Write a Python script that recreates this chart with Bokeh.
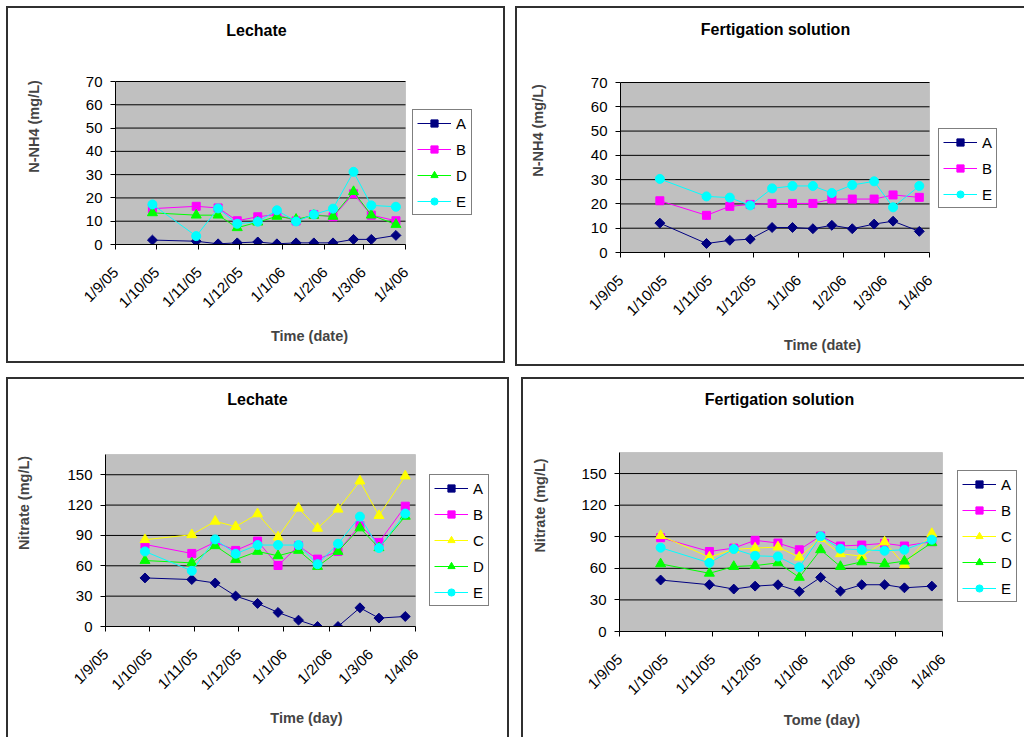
from math import pi

import numpy as np
from bokeh.embed import file_html
from bokeh.layouts import column, row
from bokeh.models import (BoxAnnotation, FixedTicker, Label, Legend,
                          LegendItem, Range1d)
from bokeh.plotting import figure
from bokeh.resources import INLINE

# Sampling dates shared by all four charts
sample_dates = ["2005-09-28", "2005-10-30", "2005-11-15", "2005-11-29",
                "2005-12-14", "2005-12-28", "2006-01-11", "2006-01-24",
                "2006-02-07", "2006-02-22", "2006-03-07", "2006-03-25"]

# Monthly ticks on the time axis and their d/m/yy labels
month_ticks = ["2005-09-01", "2005-10-01", "2005-11-01", "2005-12-01",
               "2006-01-01", "2006-02-01", "2006-03-01", "2006-04-01"]
month_labels = ["1/9/05", "1/10/05", "1/11/05", "1/12/05",
                "1/1/06", "1/2/06", "1/3/06", "1/4/06"]

# N-NH4 in the leachate (mg/L)
nh4_leach_A = [1.9, 1.4, 0.3, 0.7, 1.1, 0.3, 0.7, 0.7, 0.7, 2.2, 2.2, 3.9]
nh4_leach_B = [15.4, 16.4, 15.7, 10.2, 11.9, 12.9, 10.1, 12.9, 11.9, 21.8, 12.6, 10.2]
nh4_leach_D = [13.6, 12.6, 12.6, 7.2, 9.6, 12.1, 10.8, 12.5, 12.1, 22.7, 12.6, 8.6]
nh4_leach_E = [17.2, 3.6, 15.5, 8.9, 9.8, 14.7, 9.9, 12.9, 15.4, 31.2, 16.8, 16.2]

# N-NH4 in the fertigation solution (mg/L)
nh4_fert_A = [12.1, 3.7, 5.0, 5.5, 10.3, 10.3, 9.8, 11.2, 9.8, 11.7, 12.9, 8.7]
nh4_fert_B = [21.3, 15.3, 19.0, 19.8, 20.2, 20.2, 20.2, 22.0, 22.0, 22.0, 23.7, 22.7]
nh4_fert_E = [30.3, 23.1, 22.6, 19.4, 26.4, 27.4, 27.4, 24.5, 27.8, 29.3, 18.6, 27.4]

# Nitrate in the leachate (mg/L)
no3_leach_A = [48.0, 46.4, 43.0, 30.1, 22.8, 13.9, 6.3, 0.0, 0.0, 18.5, 8.3, 9.9]
no3_leach_B = [81.1, 72.2, 83.4, 75.2, 84.4, 60.3, 79.8, 66.6, 74.2, 99.7, 83.1, 118.9]
no3_leach_C = [85.8, 90.7, 104.0, 98.7, 111.3, 88.4, 116.9, 97.0, 115.9, 143.7, 109.6, 148.7]
no3_leach_D = [65.2, 62.9, 79.8, 66.2, 74.2, 69.9, 75.2, 59.3, 74.2, 97.4, 77.8, 108.9]
no3_leach_E = [74.2, 55.0, 86.1, 71.9, 80.5, 80.5, 80.5, 61.6, 81.8, 108.6, 77.5, 111.6]

# Nitrate in the fertigation solution (mg/L)
no3_fert_A = [48.9, 44.4, 40.3, 43.1, 44.4, 38.0, 51.4, 38.3, 44.4, 44.4, 41.5, 43.1]
no3_fert_B = [89.1, 76.0, 79.2, 86.6, 84.0, 77.6, 90.7, 81.2, 82.1, 83.7, 81.2, 85.3]
no3_fert_C = [91.1, 70.6, 78.0, 79.2, 80.2, 70.6, 88.2, 73.8, 71.6, 85.0, 63.3, 93.0]
no3_fert_D = [64.2, 55.3, 61.7, 62.6, 65.2, 51.4, 77.6, 61.7, 66.1, 64.2, 66.8, 84.3]
no3_fert_E = [79.6, 65.2, 78.3, 71.9, 71.2, 61.0, 90.4, 78.6, 77.6, 76.7, 77.6, 87.2]

nh4_ticks = [0, 10, 20, 30, 40, 50, 60, 70]
no3_ticks = [0, 30, 60, 90, 120, 150]

FONT = "Liberation Sans"

# Colour and marker of each treatment
STYLE = {
    "A": dict(color="#000080", marker="square", size=7, angle=pi / 4),
    "B": dict(color="#FF00FF", marker="square", size=8, angle=0.0),
    "C": dict(color="#FFFF00", marker="triangle", size=10, angle=0.0),
    "D": dict(color="#00FF00", marker="triangle", size=10, angle=0.0),
    "E": dict(color="#00FFFF", marker="circle", size=9, angle=0.0),
}

x_dates = np.array(sample_dates, dtype="datetime64[ms]")


def to_ms(d):
    return float(np.datetime64(d, "ms").astype("int64"))


tick_ms = [to_ms(d) for d in month_ticks]
t0, t1 = tick_ms[0], tick_ms[-1]


def make_panel(title, ylabel, xlabel, series, ymax, yticks, canvas, plot_box,
               title_xy, legend_xy, ylab_standoff, xlab_standoff, margin,
               outline):
    """One chart: the grey plot area sits in the lower left of the frame,
    the title and the legend share the frame's free space."""
    cw, ch = canvas
    pl, pt, pw, ph = plot_box           # plot area inside the canvas, px
    frame_w = cw - pl
    frame_h = pt + ph
    x_end = t0 + (t1 - t0) * frame_w / pw
    y_end = ymax * frame_h / ph

    p = figure(width=cw, height=ch, x_axis_type="datetime",
               output_backend="svg", toolbar_location=None,
               x_range=Range1d(t0, x_end), y_range=Range1d(0, y_end),
               min_border_left=pl, min_border_top=0,
               min_border_right=0, min_border_bottom=ch - frame_h)
    p.frame_align = False
    p.margin = margin
    p.styles = {"outline": outline}

    p.background_fill_color = "white"
    p.border_fill_color = "white"
    p.outline_line_color = None
    p.xgrid.visible = False
    p.ygrid.visible = False

    # grey plot area with its thin border
    p.add_layout(BoxAnnotation(left=t0, right=t1, bottom=0, top=ymax,
                               fill_color="#C0C0C0", fill_alpha=1.0,
                               line_color="#8C8C8C", line_width=1,
                               level="image"))
    # horizontal gridlines at the value ticks
    p.segment(x0=[t0] * len(yticks), x1=[t1] * len(yticks),
              y0=yticks, y1=yticks, line_color="black", line_width=1)

    # value axis
    ya = p.yaxis[0]
    ya.bounds = (0, ymax)
    ya.ticker = FixedTicker(ticks=yticks)
    ya.axis_label = ylabel
    ya.axis_label_text_font = FONT
    ya.axis_label_text_font_size = "14.5px"
    ya.axis_label_text_font_style = "bold"
    ya.axis_label_standoff = ylab_standoff
    ya.major_label_text_font = FONT
    ya.major_label_text_font_size = "15px"
    ya.major_label_text_color = "black"
    ya.major_label_standoff = 8
    ya.major_tick_out = 5
    ya.major_tick_in = 0
    ya.minor_tick_out = 0
    ya.minor_tick_in = 0
    ya.axis_line_color = "black"
    ya.major_tick_line_color = "black"

    # time axis
    xa = p.xaxis[0]
    xa.bounds = (t0, t1)
    xa.ticker = FixedTicker(ticks=tick_ms)
    xa.major_label_overrides = dict(zip(tick_ms, month_labels))
    xa.major_label_orientation = pi / 4
    xa.axis_label = xlabel
    xa.axis_label_text_font = FONT
    xa.axis_label_text_font_size = "14.5px"
    xa.axis_label_text_font_style = "bold"
    xa.axis_label_standoff = xlab_standoff
    xa.major_label_text_font = FONT
    xa.major_label_text_font_size = "15px"
    xa.major_label_text_color = "black"
    xa.major_label_standoff = 20
    xa.major_tick_out = 5
    xa.major_tick_in = 0
    xa.minor_tick_out = 0
    xa.minor_tick_in = 0
    xa.axis_line_color = "black"
    xa.major_tick_line_color = "black"

    items = []
    for name, values in series:
        st = STYLE[name]
        ln = p.line(x_dates, values, line_color=st["color"], line_width=1)
        sc = p.scatter(x_dates, values, marker=st["marker"], size=st["size"],
                       angle=st["angle"], fill_color=st["color"],
                       line_color=st["color"], line_width=1)
        items.append(LegendItem(label=name, renderers=[ln, sc]))

    legend = Legend(items=items, location=legend_xy,
                    label_text_font=FONT, label_text_font_size="15px",
                    label_text_color="black",
                    border_line_color="black", border_line_width=1,
                    background_fill_color="white", background_fill_alpha=1.0,
                    glyph_width=34, glyph_height=18, label_height=18,
                    label_width=10, label_standoff=5, spacing=8, padding=4,
                    margin=0)
    p.add_layout(legend)

    p.add_layout(Label(x=title_xy[0], y=title_xy[1], x_units="screen",
                       y_units="screen", text=title, text_font=FONT,
                       text_font_size="16px", text_font_style="bold",
                       text_color="black", text_align="center",
                       text_baseline="middle"))
    return p


BORDER = "2px solid #303030"

p1 = make_panel("Lechate", "N-NH4 (mg/L)", "Time (date)",
                [("A", nh4_leach_A), ("B", nh4_leach_B),
                 ("D", nh4_leach_D), ("E", nh4_leach_E)],
                70, nh4_ticks, canvas=(495, 353), plot_box=(107, 73, 290, 163),
                title_xy=(141, 214), legend_xy=(297, 29),
                ylab_standoff=41, xlab_standoff=8,
                margin=(8, 0, 0, 8), outline=BORDER)

p2 = make_panel("Fertigation solution", "N-NH4 (mg/L)", "Time (date)",
                [("A", nh4_fert_A), ("B", nh4_fert_B), ("E", nh4_fert_E)],
                70, nh4_ticks, canvas=(507, 356), plot_box=(103, 74, 309, 170),
                title_xy=(155, 223), legend_xy=(318, 44),
                ylab_standoff=42, xlab_standoff=9,
                margin=(8, 0, 0, 14), outline=BORDER)

p3 = make_panel("Lechate", "Nitrate (mg/L)", "Time (day)",
                [("A", no3_leach_A), ("B", no3_leach_B), ("C", no3_leach_C),
                 ("D", no3_leach_D), ("E", no3_leach_E)],
                170, no3_ticks, canvas=(499, 358), plot_box=(97, 75, 310, 172),
                title_xy=(152, 227), legend_xy=(324, 20),
                ylab_standoff=32, xlab_standoff=8,
                margin=(15, 0, 0, 8), outline=BORDER)

p4 = make_panel("Fertigation solution", "Nitrate (mg/L)", "Tome (day)",
                [("A", no3_fert_A), ("B", no3_fert_B), ("C", no3_fert_C),
                 ("D", no3_fert_D), ("E", no3_fert_E)],
                170, no3_ticks, canvas=(501, 358), plot_box=(96, 73, 323, 179),
                title_xy=(160, 232), legend_xy=(338, 29),
                ylab_standoff=30, xlab_standoff=5,
                margin=(15, 0, 0, 16), outline=BORDER)

page = column(row(p1, p2), row(p3, p4))

open("out.html", "w").write(file_html(page, INLINE))
